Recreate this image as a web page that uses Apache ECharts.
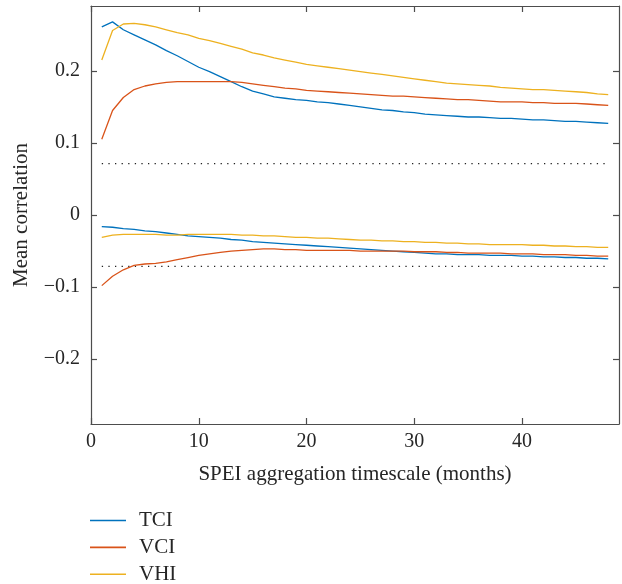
<!DOCTYPE html>
<html>
<head>
<meta charset="utf-8">
<script src="https://cdn.jsdelivr.net/npm/echarts@6/dist/echarts.min.js"></script>
<style>html,body{margin:0;padding:0;background:#fff;}#c{width:622px;height:584px;}</style>
</head>
<body>
<div id="c"></div>
<script>
const months = [1,2,3,4,5,6,7,8,9,10,11,12,13,14,15,16,17,18,19,20,21,22,23,24,25,26,27,28,29,30,31,32,33,34,35,36,37,38,39,40,41,42,43,44,45,46,47,48];
const tciPos = [0.261,0.268,0.257,0.250,0.243,0.236,0.228,0.221,0.213,0.205,0.199,0.192,0.185,0.178,0.172,0.168,0.164,0.162,0.160,0.159,0.157,0.156,0.154,0.152,0.150,0.148,0.146,0.145,0.143,0.142,0.140,0.139,0.138,0.137,0.136,0.136,0.135,0.134,0.134,0.133,0.132,0.132,0.131,0.130,0.130,0.129,0.128,0.127];
const vciPos = [0.105,0.145,0.163,0.174,0.179,0.182,0.184,0.185,0.185,0.185,0.185,0.185,0.185,0.184,0.182,0.180,0.178,0.176,0.175,0.173,0.172,0.171,0.170,0.169,0.168,0.167,0.166,0.165,0.165,0.164,0.163,0.162,0.161,0.160,0.160,0.159,0.158,0.157,0.157,0.157,0.156,0.156,0.155,0.155,0.155,0.154,0.153,0.152];
const vhiPos = [0.215,0.256,0.265,0.266,0.264,0.261,0.257,0.253,0.250,0.245,0.242,0.238,0.234,0.230,0.225,0.222,0.218,0.215,0.212,0.209,0.207,0.205,0.203,0.201,0.199,0.197,0.195,0.193,0.191,0.189,0.187,0.185,0.183,0.182,0.181,0.180,0.179,0.177,0.176,0.175,0.174,0.174,0.173,0.172,0.171,0.170,0.168,0.167];
const tciNeg = [-0.016,-0.017,-0.019,-0.020,-0.022,-0.023,-0.025,-0.027,-0.029,-0.030,-0.031,-0.032,-0.034,-0.035,-0.037,-0.038,-0.039,-0.040,-0.041,-0.042,-0.043,-0.044,-0.045,-0.046,-0.047,-0.048,-0.049,-0.050,-0.051,-0.052,-0.053,-0.054,-0.054,-0.055,-0.055,-0.055,-0.056,-0.056,-0.056,-0.057,-0.057,-0.058,-0.058,-0.059,-0.059,-0.060,-0.060,-0.061];
const vciNeg = [-0.098,-0.085,-0.076,-0.070,-0.068,-0.067,-0.065,-0.062,-0.059,-0.056,-0.054,-0.052,-0.050,-0.049,-0.048,-0.047,-0.047,-0.048,-0.048,-0.049,-0.049,-0.049,-0.049,-0.049,-0.050,-0.050,-0.050,-0.050,-0.050,-0.051,-0.051,-0.051,-0.052,-0.052,-0.053,-0.053,-0.053,-0.053,-0.054,-0.054,-0.054,-0.055,-0.055,-0.055,-0.056,-0.056,-0.057,-0.057];
const vhiNeg = [-0.031,-0.028,-0.027,-0.027,-0.027,-0.027,-0.028,-0.028,-0.027,-0.027,-0.027,-0.027,-0.027,-0.028,-0.028,-0.029,-0.029,-0.030,-0.031,-0.031,-0.032,-0.032,-0.033,-0.034,-0.035,-0.035,-0.036,-0.036,-0.037,-0.037,-0.038,-0.038,-0.039,-0.039,-0.040,-0.040,-0.041,-0.041,-0.041,-0.041,-0.042,-0.042,-0.043,-0.043,-0.044,-0.044,-0.045,-0.045];
const threshold = 0.0714;
const xTicks = [0,10,20,30,40];
const yTicks = [-0.2,-0.1,0,0.1,0.2];
const names = ['TCI','VCI','VHI'];
const colors = ['#0072BD','#D95319','#EDB120'];

const font = 'Liberation Serif';
const axisColor = '#4d4d4d';
const textColor = '#262626';

function pairs(arr){ return months.map((m,i)=>[m,arr[i]]); }
function lineSeries(name, arr, color){
  return {type:'line', name:name, data:pairs(arr), symbol:'none', color:color,
    itemStyle:{color:color}, lineStyle:{color:color, width:1.3}, z:3, animation:false};
}
function threshSeries(v){
  return {type:'line', name:'thr', data:[[months[0],v],[months[months.length-1],v]], symbol:'none',
    lineStyle:{color:'#222', width:1.3, type:[1.3,5.3]}, z:2, animation:false, silent:true};
}
const fmtY = v => (v<0?'\u2212':'') + Math.abs(v).toFixed(1).replace(/^0\.0$/,'0');

const commonX = {type:'value', min:0, max:49, splitLine:{show:false},
  axisLine:{show:true, onZero:false, lineStyle:{color:axisColor, width:1.2}},
  axisTick:{show:true, inside:true, length:6, customValues:xTicks, lineStyle:{color:axisColor, width:1.2}}};
const commonY = {type:'value', min:-0.29, max:0.29, splitLine:{show:false},
  axisLine:{show:true, onZero:false, lineStyle:{color:axisColor, width:1.2}},
  axisTick:{show:true, inside:true, length:6, customValues:yTicks, lineStyle:{color:axisColor, width:1.2}}};

const chart = echarts.init(document.getElementById('c'), null, {renderer:'canvas'});
chart.setOption({
  animation:false,
  backgroundColor:'#fff',
  grid:{left:91, right:3, top:6, bottom:160, containLabel:false},
  xAxis:[
    Object.assign({}, commonX, {position:'bottom', name:'SPEI aggregation timescale (months)', nameLocation:'middle', nameGap:40,
      nameTextStyle:{fontFamily:font, fontSize:21, color:textColor},
      axisLabel:{show:true, customValues:xTicks, margin:8, fontFamily:font, fontSize:20, color:textColor}}),
    Object.assign({}, commonX, {position:'top', axisLabel:{show:false}})
  ],
  yAxis:[
    Object.assign({}, commonY, {position:'left', name:'Mean correlation', nameLocation:'middle', nameGap:59,
      nameTextStyle:{fontFamily:font, fontSize:21, color:textColor},
      axisLabel:{show:true, customValues:yTicks, margin:11, fontFamily:font, fontSize:20, color:textColor, formatter:fmtY}}),
    Object.assign({}, commonY, {position:'right', axisLabel:{show:false}})
  ],
  legend:{data:names.map(n=>({name:n, icon:'rect'})), orient:'vertical', left:90, top:510, height:80, padding:0,
    itemWidth:36, itemHeight:1.6, itemGap:5.9,
    itemStyle:{borderWidth:0},
    textStyle:{fontFamily:font, fontSize:21, lineHeight:20, color:textColor, padding:[0,0,0,8]}},
  series:[
    threshSeries(threshold), threshSeries(-threshold),
    lineSeries(names[0], tciPos, colors[0]),
    lineSeries(names[1], vciPos, colors[1]),
    lineSeries(names[2], vhiPos, colors[2]),
    lineSeries(names[0], tciNeg, colors[0]),
    lineSeries(names[1], vciNeg, colors[1]),
    lineSeries(names[2], vhiNeg, colors[2])
  ]
});
</script>
</body>
</html>
